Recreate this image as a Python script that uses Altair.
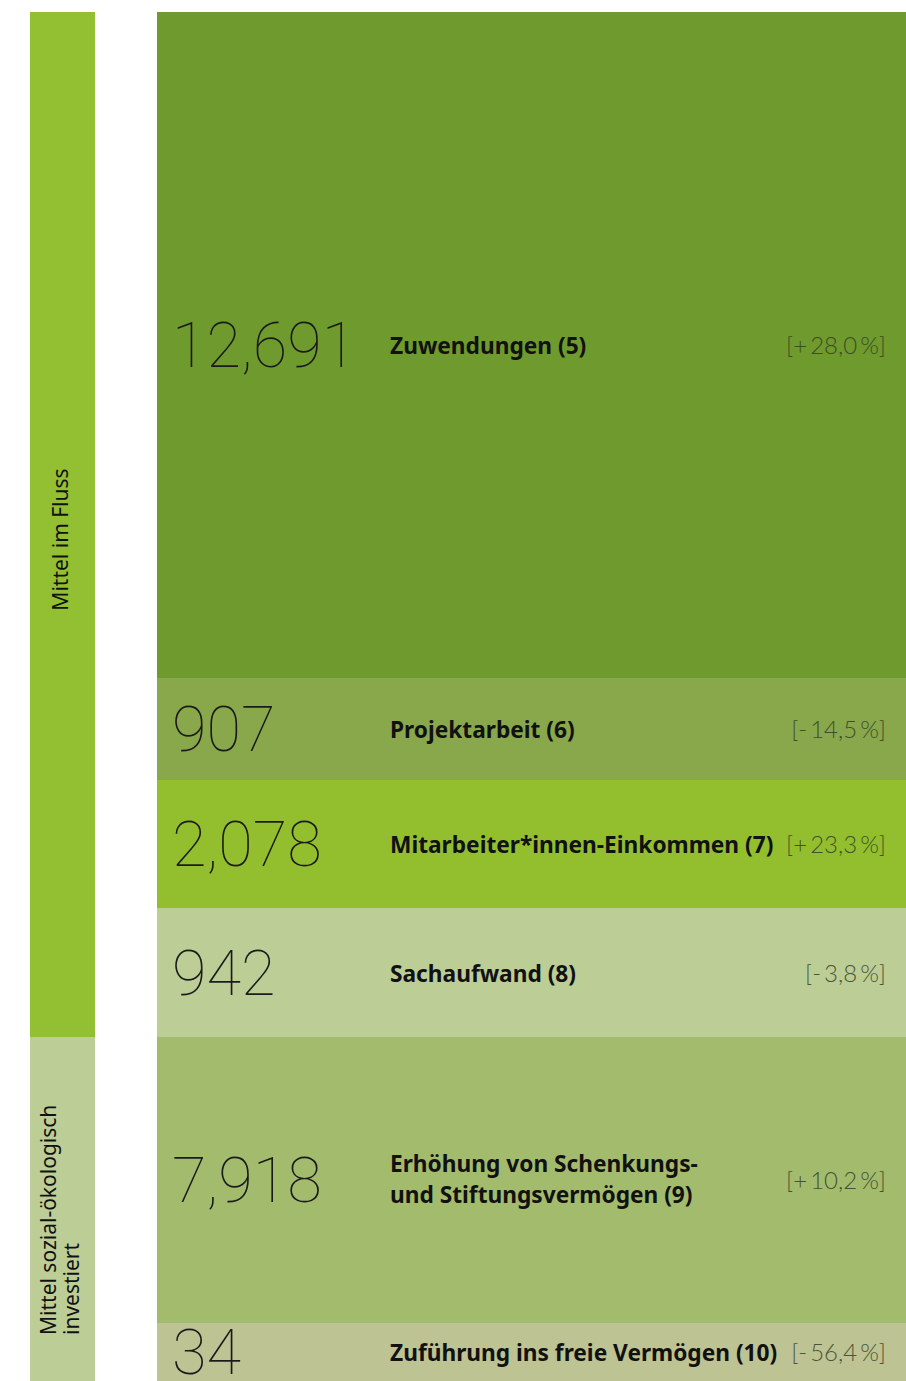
import altair as alt
import pandas as pd

# ---- data ----
amounts = [12691, 907, 2078, 942, 7918, 34]
labels = [
    "Zuwendungen (5)",
    "Projektarbeit (6)",
    "Mitarbeiter*innen-Einkommen (7)",
    "Sachaufwand (8)",
    "Erhöhung von Schenkungs-\nund Stiftungsvermögen (9)",
    "Zuführung ins freie Vermögen (10)",
]
changes = ["[+\u200928,0\u2009%]", "[-\u200914,5\u2009%]", "[+\u200923,3\u2009%]",
           "[-\u20093,8\u2009%]", "[+\u200910,2\u2009%]", "[-\u200956,4\u2009%]"]
row_colors = ["#6f9a2e", "#88a84b", "#93bf2f", "#bccd96", "#a3bb6d", "#bdc393"]
# display weight of each row in the layout (rows are not drawn to value scale)
row_weight = [666, 102, 128, 129, 286, 58]
groups = ["Mittel im Fluss"] * 4 + ["Mittel sozial-ökologisch\ninvestiert"] * 2
group_names = ["Mittel im Fluss", "Mittel sozial-ökologisch\ninvestiert"]
group_colors = ["#93c032", "#bdcd96"]

# ---- build tables ----
df = pd.DataFrame({
    "amount": amounts, "label": labels, "change": changes,
    "color": row_colors, "weight": row_weight, "group": groups,
})
df["start"] = df["weight"].cumsum() - df["weight"]
df["end"] = df["weight"].cumsum()
df["mid"] = (df["start"] + df["end"]) / 2
df["multiline"] = df["label"].str.contains("\n")
total = float(df["end"].max())

g = df.groupby("group", sort=False).agg(start=("start", "min"), end=("end", "max")).reset_index()
g["mid"] = (g["start"] + g["end"]) / 2
g["color"] = g["group"].map(dict(zip(group_names, group_colors)))

yscale = alt.Scale(domain=[0, total], reverse=True, nice=False, zero=False)

base = alt.Chart(df)

rows = base.mark_rect().encode(
    x=alt.value(157), x2=alt.value(906),
    y=alt.Y("start:Q", scale=yscale, axis=None), y2="end:Q",
    color=alt.Color("color:N", scale=None),
)

nums = base.mark_text(
    align="left", baseline="middle", font="Roboto", fontWeight=100,
    fontSize=63, color="#1a1a1a", dy=3,
).encode(
    x=alt.value(172),
    y=alt.Y("mid:Q", scale=yscale, axis=None),
    text=alt.Text("amount:Q", format=",d"),
)

lab_style = dict(align="left", baseline="middle", font="Noto Sans", fontWeight="bold",
                 fontSize=22.7, color="#111111", lineBreak="\n", lineHeight=31)

labs1 = base.transform_filter("!datum.multiline").mark_text(**lab_style, dy=2).encode(
    x=alt.value(390),
    y=alt.Y("mid:Q", scale=yscale, axis=None),
    text="label:N",
)
labs2 = base.transform_filter("datum.multiline").mark_text(**lab_style, dy=-15).encode(
    x=alt.value(390),
    y=alt.Y("mid:Q", scale=yscale, axis=None),
    text="label:N",
)

chg = base.mark_text(
    align="right", baseline="middle", font="Lato", fontWeight=300,
    fontSize=24, color="#2f3a22", opacity=0.8, dy=2,
).encode(
    x=alt.value(886),
    y=alt.Y("mid:Q", scale=yscale, axis=None),
    text="change:N",
)

gbase = alt.Chart(g)
gbars = gbase.mark_rect().encode(
    x=alt.value(30), x2=alt.value(95),
    y=alt.Y("start:Q", scale=yscale, axis=None), y2="end:Q",
    color=alt.Color("color:N", scale=None),
)

g1text = gbase.transform_filter(alt.datum.group == group_names[0]).mark_text(
    align="center", baseline="middle", angle=270, dx=-15,
    font="Noto Sans", fontSize=21, color="#111111",
).encode(
    x=alt.value(62),
    y=alt.Y("mid:Q", scale=yscale, axis=None),
    text="group:N",
)

g2text = gbase.transform_filter(alt.datum.group == group_names[1]).mark_text(
    align="left", baseline="middle", angle=270, dx=46,
    font="Noto Sans", fontSize=21, color="#111111", lineBreak="\n", lineHeight=23,
).encode(
    x=alt.value(50),
    y=alt.Y("end:Q", scale=yscale, axis=None),
    text="group:N",
)

chart = alt.layer(rows, nums, labs1, labs2, chg, gbars, g1text, g2text).properties(
    width=906, height=1369,
    padding={"left": 0, "top": 12, "right": 0, "bottom": 0},
    autosize=alt.AutoSizeParams(type="none"),
    background="#ffffff",
).configure_view(stroke=None)

chart.save("out.html", embed_options={"renderer": "svg", "actions": False})
